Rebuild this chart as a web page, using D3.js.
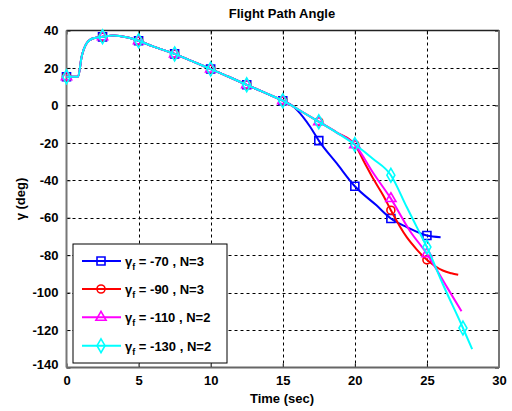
<!DOCTYPE html>
<html><head><meta charset="utf-8">
<script src="https://cdn.jsdelivr.net/npm/d3@7"></script>
<style>body{margin:0;background:#fff;}svg{display:block;font-family:Arial,"Liberation Sans",sans-serif;}</style>
</head><body><svg id="c" width="512" height="411"></svg>
<script>
// common trajectory (all guidance cases identical up to divergence)
const commonT = [0,0.8,1.05,1.4,1.86,2.5,3.25,4.17,5,6,7.5,8.75,10,11.25,12.5,13.75,15];
const commonV = [15.3,15.3,26,33.2,35.9,36.6,37.3,36.4,34.5,31.5,27.5,23.5,19.4,15.3,11,6.8,2.5];

const blueT = [15.6,16.4,16.9,17.5,18.75,20,21.5,22.5,23.6,25,25.95];
const blueV = [0.2,-6.1,-11.4,-18.8,-31,-43.2,-53.4,-60.4,-65,-69.5,-70.4];

const cyanT = [16.25,17.5,18.75,20,21.25,22.5,23.6,24.3,25,26.1,27.5,28.14];
const cyanV = [-3,-8.7,-14.5,-20.9,-28.5,-37.3,-54.3,-65,-75.7,-95.4,-118.9,-130.2];

const redT = [16.25,17.5,18.75,20,20.7,21.3,22,22.5,23.6,24.3,25,25.5,26.1,26.7,27.17];
const redV = [-3,-8.7,-14.5,-21,-31,-39.5,-48.5,-56,-70.4,-77,-82.5,-85.5,-88.2,-89.7,-90.5];

const magT = [16.25,17.5,18.75,20,21.3,22.5,23.8,25,26.4,27.4];
const magV = [-3,-8.7,-14.5,-21,-36.4,-49.8,-66.8,-79.3,-97.2,-110];

const seriesNames = ["-70 , N=3","-90 , N=3","-110 , N=2","-130 , N=2"];
const seriesColors = ["#0000ff","#ff0000","#ff00ff","#00ffff"];
const seriesMarkers = ["square","circle","triangle","diamond"];
const xTicks = [0,5,10,15,20,25,30];
const yTicks = [40,20,0,-20,-40,-60,-80,-100,-120,-140];

const svg = d3.select("#c");
const L=66.5, R=499, T=30.5, B=367.5;
const x = d3.scaleLinear().domain([0,30]).range([L,R]);
const y = d3.scaleLinear().domain([-140,40]).range([B,T]);

// grid
const g = svg.append("g");
g.selectAll(".gx").data(xTicks.slice(1,-1)).enter().append("line")
  .attr("x1",d=>Math.round(x(d))+0.5).attr("x2",d=>Math.round(x(d))+0.5).attr("y1",T).attr("y2",B)
  .attr("stroke","#000").attr("stroke-width",1).attr("stroke-dasharray","3,3");
g.selectAll(".gy").data(yTicks.slice(1,-1)).enter().append("line")
  .attr("y1",d=>Math.round(y(d))+0.5).attr("y2",d=>Math.round(y(d))+0.5).attr("x1",L).attr("x2",R)
  .attr("stroke","#000").attr("stroke-width",1).attr("stroke-dasharray","3,3");

// axes with inward ticks
const fontTick = "bold 13px Arial";
const fmt = d => String(d);
const xAxisB = d3.axisBottom(x).tickValues(xTicks).tickFormat(fmt).tickSizeInner(-4).tickSizeOuter(0).tickPadding(8);
const xAxisT = d3.axisTop(x).tickValues(xTicks).tickSizeInner(-4).tickSizeOuter(0).tickFormat("");
const yAxisL = d3.axisLeft(y).tickValues(yTicks).tickFormat(fmt).tickSizeInner(-4).tickSizeOuter(0).tickPadding(8);
const yAxisR = d3.axisRight(y).tickValues(yTicks).tickSizeInner(-4).tickSizeOuter(0).tickFormat("");
function style(sel){sel.select(".domain").remove();sel.selectAll("line").attr("stroke","#000");sel.selectAll("text").style("font",fontTick).attr("fill","#000");}
svg.append("g").attr("transform",`translate(0,${B})`).call(xAxisB).call(style);
svg.append("g").attr("transform",`translate(0,${T})`).call(xAxisT).call(style);
svg.append("g").attr("transform",`translate(${L},0)`).call(yAxisL).call(style);
svg.append("g").attr("transform",`translate(${R},0)`).call(yAxisR).call(style);
svg.selectAll("text").filter(function(){return this.textContent==="-140";}).attr("dy","0.1em");

// box
svg.append("line").attr("x1",L).attr("x2",R).attr("y1",T).attr("y2",T).attr("stroke","#222").attr("stroke-width",1.5);
svg.append("line").attr("x1",L).attr("x2",R).attr("y1",B).attr("y2",B).attr("stroke","#666").attr("stroke-width",2);
svg.append("line").attr("x1",L).attr("x2",L).attr("y1",T).attr("y2",B).attr("stroke","#777").attr("stroke-width",2);
svg.append("line").attr("x1",R).attr("x2",R).attr("y1",T).attr("y2",B).attr("stroke","#777").attr("stroke-width",2);

const series = [
  {t: commonT.concat(blueT), v: commonV.concat(blueV)},
  {t: commonT.concat(redT), v: commonV.concat(redV)},
  {t: commonT.concat(magT), v: commonV.concat(magV)},
  {t: commonT.concat(cyanT), v: commonV.concat(cyanV)}
];

const symType = {square:d3.symbolSquare,circle:d3.symbolCircle,triangle:d3.symbolTriangle,diamond:d3.symbolDiamond};
const symSize = {square:64,circle:50,triangle:45,diamond:55};
function marker(sel,m,c){
  sel.append("path").attr("d",d3.symbol().type(symType[m]).size(symSize[m])())
    .attr("fill","none").attr("stroke",c).attr("stroke-width",1.6);
}
const line = d3.line().x(d=>x(d[0])).y(d=>y(d[1])).curve(d3.curveMonotoneX);
series.forEach((s,i)=>{
  const pts = s.t.map((t,k)=>[t,s.v[k]]);
  svg.append("path").datum(pts).attr("d",line).attr("fill","none")
    .attr("stroke",seriesColors[i]).attr("stroke-width",2);
  pts.filter(p=>Math.abs(p[0]/2.5-Math.round(p[0]/2.5))<1e-6).forEach(p=>{
    svg.append("g").attr("transform",`translate(${x(p[0])},${y(p[1])})`).call(marker,seriesMarkers[i],seriesColors[i]);
  });
});

// title and labels
svg.append("text").attr("x",282).attr("y",18).attr("text-anchor","middle").style("font","bold 13px Arial").text("Flight Path Angle");
svg.append("text").attr("x",282).attr("y",403).attr("text-anchor","middle").style("font","bold 13px Arial").text("Time (sec)");
svg.append("text").attr("transform","translate(25,199) rotate(-90)").attr("text-anchor","middle").style("font","bold 13px Arial").text("γ (deg)");

// legend
const lg = svg.append("g");
lg.append("rect").attr("x",73).attr("y",244).attr("width",154).attr("height",119).attr("fill","#fff").attr("stroke","#000").attr("stroke-width",1);
const legY = [261,289,317.3,345.7];
seriesNames.forEach((n,i)=>{
  lg.append("line").attr("x1",82).attr("x2",121).attr("y1",legY[i]).attr("y2",legY[i]).attr("stroke",seriesColors[i]).attr("stroke-width",2);
  lg.append("g").attr("transform",`translate(101,${legY[i]})`).call(marker,seriesMarkers[i],seriesColors[i]);
  const tx = lg.append("text").attr("x",125).attr("y",legY[i]+5).style("font","bold 13px Arial");
  tx.append("tspan").text("γ");
  tx.append("tspan").attr("dy",4).style("font-size","9px").text("f");
  tx.append("tspan").attr("dy",-4).text(" = "+n);
});
</script></body></html>
